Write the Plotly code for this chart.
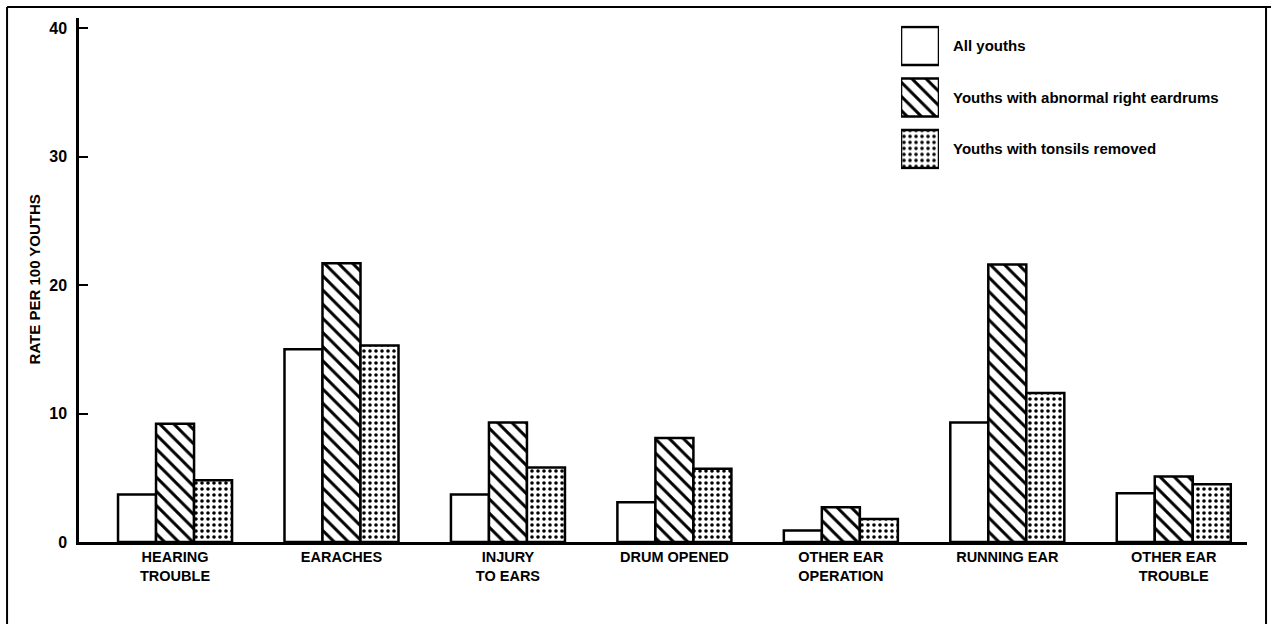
import plotly.graph_objects as go

# ---- data ----
categories = ["HEARING<br>TROUBLE", "EARACHES", "INJURY<br>TO EARS", "DRUM OPENED",
              "OTHER EAR<br>OPERATION", "RUNNING EAR", "OTHER EAR<br>TROUBLE"]
series_names = ["All youths", "Youths with abnormal right eardrums", "Youths with tonsils removed"]
all_youths = [3.7, 15.0, 3.7, 3.1, 0.9, 9.3, 3.8]
abnormal_eardrums = [9.2, 21.7, 9.3, 8.1, 2.7, 21.6, 5.1]
tonsils_removed = [4.8, 15.3, 5.8, 5.7, 1.8, 11.6, 4.5]
y_ticks = [0, 10, 20, 30, 40]

patterns = ["", "\\", "."]
pat_sizes = [10, 10, 6]
pat_solidity = [0.3, 0.3, 0.28]
FONT = "Liberation Sans, Arial, sans-serif"

fig = go.Figure()
x_idx = list(range(len(categories)))
for name, vals, pat, sz, so in zip(series_names, [all_youths, abnormal_eardrums, tonsils_removed],
                                   patterns, pat_sizes, pat_solidity):
    fig.add_trace(go.Bar(
        x=x_idx, y=vals, name=name, showlegend=False,
        marker=dict(color="white", line=dict(color="black", width=2.5),
                    pattern=dict(shape=pat, fgcolor="black", bgcolor="white",
                                 size=sz, solidity=so, fillmode="replace")),
    ))

# legend swatches drawn on their own small axes
fig.add_trace(go.Bar(
    x=[1, 1, 1], y=[0, 1, 2], orientation="h", width=0.74,
    xaxis="x2", yaxis="y2", showlegend=False, hoverinfo="skip",
    marker=dict(color="white", line=dict(color="black", width=2.5),
                pattern=dict(shape=patterns, fgcolor="black", bgcolor="white",
                             size=pat_sizes, solidity=pat_solidity, fillmode="replace")),
))
for i, name in enumerate(series_names):
    fig.add_annotation(text=name, xref="paper", yref="y2", x=0.7466, y=i,
                       xanchor="left", yanchor="middle", showarrow=False,
                       font=dict(family=FONT, size=15, color="black", weight="bold"))

# y-axis title
fig.add_annotation(text="RATE PER 100 YOUTHS", xref="paper", yref="paper",
                   x=-0.0381, y=0.502, textangle=-90, showarrow=False,
                   xanchor="center", yanchor="middle",
                   font=dict(family=FONT, size=15, color="black", weight="bold"))

# outer frame (left, top, right)
for (x0, y0, x1, y1) in [(-0.0616, 1.021, -0.0616, -0.2), (-0.0616, 1.021, 1.1, 1.021),
                         (1.0163, 1.021, 1.0163, -0.2)]:
    fig.add_shape(type="line", xref="paper", yref="paper", x0=x0, y0=y0, x1=x1, y1=y1,
                  line=dict(color="black", width=2))

fig.update_layout(
    width=1271, height=624,
    margin=dict(l=79, r=24, t=18, b=82),
    paper_bgcolor="white", plot_bgcolor="white",
    barmode="group", bargap=0.315, bargroupgap=0,
    font=dict(family=FONT, color="black"),
    xaxis=dict(range=[-0.577, 6.44], tickvals=x_idx, ticktext=categories,
               showline=True, linecolor="black", linewidth=2.5, ticks="",
               showgrid=False, zeroline=False,
               tickfont=dict(family=FONT, size=14.5, color="black", weight="bold")),
    yaxis=dict(range=[0, 40.8], tickvals=y_ticks, ticks="inside", ticklen=9, tickwidth=2,
               tickcolor="black", showline=True, linecolor="black", linewidth=2.5,
               showgrid=False, zeroline=False, ticklabelstandoff=6,
               tickfont=dict(family=FONT, size=16, color="black", weight="bold")),
    xaxis2=dict(domain=[0.7038, 0.7363], range=[0, 1], visible=False, anchor="y2"),
    yaxis2=dict(domain=[0.7107, 0.9859], range=[2.4, -0.4], visible=False, anchor="x2"),
)

fig.write_html("out.html", config={"displayModeBar": False},
               post_script="document.body.style.margin='0px';document.body.style.overflow='hidden';")
